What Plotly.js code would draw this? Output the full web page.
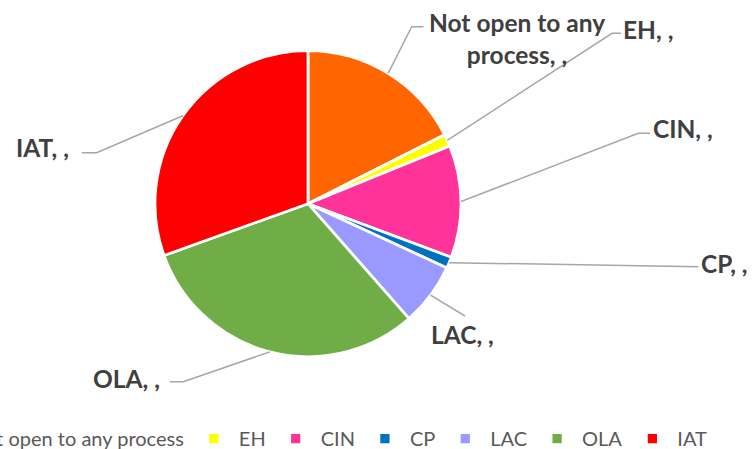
<!DOCTYPE html>
<html><head><meta charset="utf-8">
<script src="https://cdn.plot.ly/plotly-3.0.1.min.js"></script>
<style>html,body{margin:0;padding:0;background:#fff;width:753px;height:449px;overflow:hidden;}#chart{width:900px;height:449px;}</style>
</head><body><div id="chart"></div>
<script>
const categories = ['Not open to any process','EH','CIN','CP','LAC','OLA','IAT'];
const shares = [17.5, 1.3, 11.8, 1.2, 6.6, 30.9, 30.4];
const sliceColors = ['#FF6600','#FFFF00','#FF3399','#0070C0','#9999FF','#70AD47','#FF0000'];
const dataLabels = ['Not open to any<br>process, ,','EH, ,','CIN, ,','CP, ,','LAC, ,','OLA, ,','IAT, ,'];

// canvas is wider than the 753px window so the horizontal legend stays on one row
// and runs off the left edge like the reference
const W = 900, H = 449, MB = 30, PH = H - MB;
const CX = 308, CY = 203.7, R = 153;
function fx(px){ return px / W; }
function fy(py){ return (PH - py) / PH; }

const labelLayout = [
  {x:517, y:38.5,  xa:'center', pts:[[411.7,26.7],[423.5,26.7]]},
  {x:621, y:29.5,  xa:'left',   pts:[[612,33.3],[621,33.3]]},
  {x:651, y:128.5, xa:'left',   pts:[[638.3,133.3],[650,133.3]]},
  {x:699, y:263,   xa:'left',   pts:[[698.3,266.7]]},
  {x:429, y:334.5, xa:'left',   pts:[[465,316]]},
  {x:91,  y:378,   xa:'left',   pts:[[183.3,381.7],[170,381.7]]},
  {x:14,  y:147.5, xa:'left',   pts:[[96.7,152.7],[81.7,152.7]]}
];

const total = shares.reduce((a,b)=>a+b,0);
let cum = 0;
const shapes = [], annotations = [];
shares.forEach((v,i)=>{
  const a = (cum + v/2) / total * 2 * Math.PI; cum += v;
  const ex = CX + R*Math.sin(a), ey = CY - R*Math.cos(a);
  const L = labelLayout[i];
  let d = 'M' + fx(ex) + ',' + fy(ey);
  L.pts.forEach(p=>{ d += ' L' + fx(p[0]) + ',' + fy(p[1]); });
  shapes.push({type:'path', xref:'paper', yref:'paper', path:d, line:{color:'#A6A6A6', width:1.5}});
  annotations.push({xref:'paper', yref:'paper', x:fx(L.x), y:fy(L.y), xanchor:L.xa, yanchor:'middle',
    text:dataLabels[i], showarrow:false, align:'center',
    font:{family:'Lato', size:24.5, color:'#404040', weight:'bold'}});
});

const trace = {
  type:'pie', labels:categories, values:shares, sort:false, direction:'clockwise', rotation:0,
  marker:{colors:sliceColors, line:{color:'#FFFFFF', width:2.75}},
  textinfo:'none', hoverinfo:'skip',
  domain:{x:[fx(CX-R), fx(CX+R)], y:[fy(CY+R), fy(CY-R)]}
};

const layout = {
  width:W, height:H,
  margin:{l:0, r:0, t:0, b:MB, autoexpand:false},
  paper_bgcolor:'#FFFFFF', plot_bgcolor:'#FFFFFF',
  showlegend:true,
  legend:{orientation:'h', x:-80/W, xanchor:'left', y:fy(438.5), yanchor:'middle', itemwidth:40,
    font:{family:'Lato', size:20, color:'#595959'}},
  shapes:shapes, annotations:annotations
};

Plotly.newPlot('chart', [trace], layout, {displayModeBar:false, staticPlot:true});
</script></body></html>
